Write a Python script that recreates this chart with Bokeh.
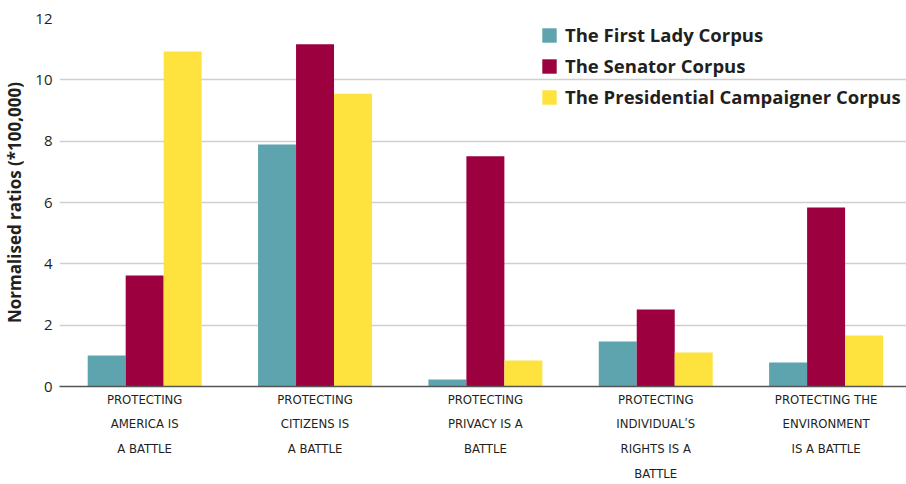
from bokeh.plotting import figure
from bokeh.models import Range1d, FixedTicker, Legend, LegendItem
from bokeh.embed import file_html
from bokeh.resources import INLINE

categories = [
    "PROTECTING\nAMERICA IS\nA BATTLE",
    "PROTECTING\nCITIZENS IS\nA BATTLE",
    "PROTECTING\nPRIVACY IS A\nBATTLE",
    "PROTECTING\nINDIVIDUAL\u02B9S\nRIGHTS IS A\nBATTLE",
    "PROTECTING THE\nENVIRONMENT\nIS A BATTLE",
]
series_names = ["The First Lady Corpus", "The Senator Corpus", "The Presidential Campaigner Corpus"]
first_lady = [1.01, 7.89, 0.23, 1.47, 0.78]
senator = [3.62, 11.16, 7.51, 2.51, 5.84]
campaigner = [10.92, 9.55, 0.85, 1.11, 1.66]
y_ticks = [0, 2, 4, 6, 8, 10, 12]

colors = ["#5ea4ae", "#9d003f", "#fee33e"]
xs = list(range(len(categories)))
bw = 0.223

p = figure(width=906, height=484, output_backend="svg", toolbar_location=None,
           x_range=Range1d(-0.5, 4.472), y_range=Range1d(0, 12),
           min_border_left=59, min_border_right=0, min_border_top=18, min_border_bottom=98)
p.outline_line_color = None
p.background_fill_color = "white"

renderers = []
for i, (vals, col) in enumerate(zip([first_lady, senator, campaigner], colors)):
    r = p.vbar(x=[x + (i - 1) * bw for x in xs], top=vals, width=bw, color=col, line_color=None)
    renderers.append(r)

p.xgrid.grid_line_color = None
p.ygrid.grid_line_color = "#cfcfcf"
p.ygrid.grid_line_width = 1.5
p.ygrid.ticker = FixedTicker(ticks=y_ticks)

p.yaxis.ticker = FixedTicker(ticks=y_ticks)
p.yaxis.axis_line_color = None
p.yaxis.major_tick_line_color = None
p.yaxis.minor_tick_line_color = None
p.yaxis.major_tick_out = 0
p.yaxis.major_tick_in = 0
p.yaxis.major_label_text_font = "Open Sans"
p.yaxis.major_label_text_font_size = "15px"
p.yaxis.major_label_text_color = "#231f20"
p.yaxis.major_label_standoff = 7
p.yaxis.axis_label = "Normalised ratios (*100,000)"
p.yaxis.axis_label_text_font = "Open Sans"
p.yaxis.axis_label_text_font_size = "17px"
p.yaxis.axis_label_text_font_style = "bold"
p.yaxis.axis_label_text_color = "#231f20"
p.yaxis.axis_label_standoff = 6

p.xaxis.ticker = FixedTicker(ticks=xs)
p.xaxis.major_label_overrides = {x: c for x, c in zip(xs, categories)}
p.xaxis.axis_line_color = "#555555"
p.xaxis.axis_line_width = 1.5
p.xaxis.major_tick_line_color = None
p.xaxis.minor_tick_line_color = None
p.xaxis.major_tick_out = 0
p.xaxis.major_tick_in = 0
p.xaxis.major_label_text_font = "DejaVu Sans Condensed, Roboto, sans-serif"
p.xaxis.major_label_text_font_size = "13px"
p.xaxis.major_label_text_color = "#231f20"
p.xaxis.major_label_text_line_height = 1.65
p.xaxis.major_label_standoff = 5

legend = Legend(items=[LegendItem(label=n, renderers=[r]) for n, r in zip(series_names, renderers)],
                location=(481, 277))
legend.border_line_color = None
legend.background_fill_alpha = 0
legend.margin = 0
legend.padding = 0
legend.spacing = 6
legend.glyph_width = 18
legend.glyph_height = 18
legend.label_standoff = 7
legend.label_text_font = "Open Sans"
legend.label_text_font_size = "18.5px"
legend.label_text_font_style = "bold"
legend.label_text_color = "#231f20"
legend.label_height = 18
p.add_layout(legend, "center")

open("out.html", "w").write(file_html(p, INLINE))
